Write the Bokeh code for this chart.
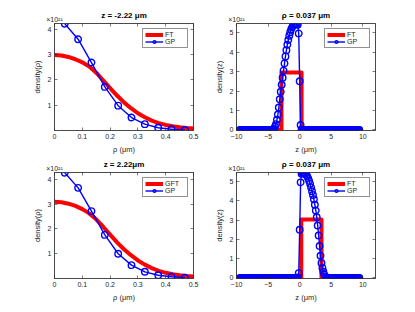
from bokeh.plotting import figure
from bokeh.layouts import column, row
from bokeh.models import (Range1d, FixedTicker, LinearAxis, Legend,
                          LegendItem, NumeralTickFormatter, BasicTickFormatter)
from bokeh.embed import file_html
from bokeh.resources import INLINE

FONT = "Liberation Sans"
RED = "#ff0000"
BLUE = "#0000ff"
AX = "#262626"

# ---------------- data (values in units of 1e21) ----------------
rho_ft = [0.0, 0.025, 0.05, 0.075, 0.1, 0.125, 0.15, 0.175, 0.2, 0.225, 0.25,
          0.275, 0.3, 0.325, 0.35, 0.375, 0.4, 0.425, 0.45, 0.475, 0.5]
ft_rho_top = [2.98, 2.96, 2.90, 2.81, 2.69, 2.52, 2.28, 1.98, 1.67, 1.38, 1.11,
              0.88, 0.68, 0.52, 0.39, 0.29, 0.22, 0.17, 0.13, 0.10, 0.08]
ft_rho_bot = [3.10, 3.08, 3.02, 2.93, 2.80, 2.63, 2.39, 2.09, 1.77, 1.46, 1.18,
              0.94, 0.73, 0.56, 0.42, 0.31, 0.23, 0.17, 0.13, 0.10, 0.08]

rho_gp = [0.037, 0.085, 0.133, 0.181, 0.229, 0.277, 0.325, 0.373, 0.421, 0.469]
gp_rho_top = [4.21, 3.60, 2.68, 1.72, 0.98, 0.51, 0.25, 0.11, 0.05, 0.02]
gp_rho_bot = [4.27, 3.66, 2.72, 1.76, 1.00, 0.54, 0.27, 0.13, 0.07, 0.03]

z_gp = [-9.45, -9.3, -9.15, -9.0, -8.85, -8.7, -8.55, -8.4, -8.25, -8.1,
        -7.95, -7.8, -7.65, -7.5, -7.35, -7.2, -7.05, -6.9, -6.75, -6.6,
        -6.45, -6.3, -6.15, -6.0, -5.85, -5.7, -5.55, -5.4, -5.25, -5.1,
        -4.95, -4.8, -4.65, -4.5, -4.35, -4.2, -4.05, -3.9, -3.75, -3.6,
        -3.45, -3.3, -3.15, -3.0, -2.85, -2.7, -2.55, -2.4, -2.25, -2.1,
        -1.95, -1.8, -1.65, -1.5, -1.35, -1.2, -1.05, -0.9, -0.75, -0.6,
        -0.45, -0.3, -0.15, 0.0,
        0.15, 0.3, 0.45, 0.6, 0.75, 0.9, 1.05, 1.2, 1.35, 1.5,
        1.65, 1.8, 1.95, 2.1, 2.25, 2.4, 2.55, 2.7, 2.85, 3.0,
        3.15, 3.3, 3.45, 3.6, 3.75, 3.9, 4.05, 4.2, 4.35, 4.5,
        4.65, 4.8, 4.95, 5.1, 5.25, 5.4, 5.55, 5.7, 5.85, 6.0,
        6.15, 6.3, 6.45, 6.6, 6.75, 6.9, 7.05, 7.2, 7.35, 7.5,
        7.65, 7.8, 7.95, 8.1, 8.25, 8.4, 8.55, 8.7, 8.85, 9.0,
        9.15, 9.3, 9.45]

gp_z_top = ([0.0] * 34 +
            [0.01, 0.03, 0.06, 0.16, 0.30, 0.52, 0.79, 1.15, 1.58, 1.96,
             2.32, 2.68, 3.05, 3.42, 3.78, 4.10, 4.38, 4.62, 4.84, 5.02,
             5.16, 5.27, 5.35, 5.41, 5.45, 5.46, 5.45, 5.40, 4.96, 2.50,
             0.25, 0.02] +
            [0.0] * 61)
gp_z_bot = ([0.0] * 61 +
            [0.02, 0.25, 2.50, 4.96, 5.40, 5.45, 5.46, 5.45, 5.41, 5.35,
             5.27, 5.17, 5.04, 4.88, 4.70, 4.50, 4.30, 4.08, 3.80, 3.50,
             3.15, 2.72, 2.20, 1.66, 1.15, 0.78, 0.52, 0.32, 0.18, 0.08,
             0.04, 0.01] +
            [0.0] * 34)

z_ft_top = [-10.0, -2.88, -2.88, 0.3, 0.3, 10.0]
ft_z_top = [0.0, 0.0, 2.95, 2.95, 0.0, 0.0]
z_ft_bot = [-10.0, 0.25, 0.25, 3.45, 3.45, 10.0]
ft_z_bot = [0.0, 0.0, 3.03, 3.03, 0.0, 0.0]

rho_ticks = [0, 0.1, 0.2, 0.3, 0.4, 0.5]
rho_yticks = [1, 2, 3, 4]
z_ticks = [-10, -5, 0, 5, 10]
z_yticks = [0, 1, 2, 3, 4, 5]

titles = ["z = -2.22 \u03bcm", "\u03c1 = 0.037 \u03bcm", "z = 2.22\u03bcm", "\u03c1 = 0.037 \u03bcm"]
exponent = "\u00d710\u00b2\u00b9"


def style_axis(ax, ticks, fmt, label):
    ax.ticker = FixedTicker(ticks=ticks)
    ax.formatter = fmt
    ax.axis_label = label
    ax.axis_line_color = AX
    ax.axis_line_width = 0.6
    ax.major_tick_line_color = AX
    ax.major_tick_line_width = 0.6
    ax.major_tick_in = 3
    ax.major_tick_out = 0
    ax.minor_tick_line_color = None
    ax.major_label_text_font = FONT
    ax.major_label_text_font_size = "7px"
    ax.major_label_text_color = AX
    ax.major_label_standoff = 3
    ax.axis_label_text_font = FONT
    ax.axis_label_text_font_size = "7.5px"
    ax.axis_label_text_font_style = "normal"
    ax.axis_label_text_color = AX
    ax.axis_label_standoff = 3


def box_axis(ticks):
    ax = LinearAxis(ticker=FixedTicker(ticks=ticks))
    ax.axis_line_color = AX
    ax.axis_line_width = 0.6
    ax.major_tick_line_color = AX
    ax.major_tick_line_width = 0.6
    ax.major_tick_in = 3
    ax.major_tick_out = 0
    ax.minor_tick_line_color = None
    return ax


def panel(width, height, bl, br, bt, bb, xr, yr, xticks, yticks, xfmt,
          xlabel, ylabel, title, x_ft, y_ft, ft_name, x_gp, y_gp):
    p = figure(width=width, height=height, x_range=Range1d(*xr),
               y_range=Range1d(*yr), output_backend="svg",
               toolbar_location=None, min_border_left=bl, min_border_right=br,
               min_border_top=bt, min_border_bottom=bb)
    p.grid.visible = False
    p.outline_line_color = AX
    p.outline_line_width = 0.6
    p.background_fill_color = "white"
    p.border_fill_color = "white"
    style_axis(p.xaxis[0], xticks, xfmt, xlabel)
    style_axis(p.yaxis[0], yticks, BasicTickFormatter(), ylabel)

    # top box edge: ticks, exponent marker as a label, title as axis label
    top = box_axis(xticks)
    top.major_label_overrides = {t: (exponent if i == 0 else "") for i, t in enumerate(xticks)}
    top.major_label_text_align = "left"
    top.major_label_text_font = FONT
    top.major_label_text_font_size = "7px"
    top.major_label_text_color = AX
    top.major_label_standoff = 1
    top.axis_label = title
    top.axis_label_text_font = FONT
    top.axis_label_text_font_size = "8px"
    top.axis_label_text_font_style = "bold"
    top.axis_label_text_color = "black"
    top.axis_label_standoff = -7
    p.add_layout(top, "above")

    right = box_axis(yticks)
    right.major_label_text_font_size = "0px"
    right.major_label_text_alpha = 0
    right.major_label_standoff = 0
    p.add_layout(right, "right")

    r_ft = p.line(x_ft, y_ft, line_color=RED, line_width=4, line_join="round")
    r_gl = p.line(x_gp, y_gp, line_color=BLUE, line_width=1.4)
    r_gm = p.scatter(x_gp, y_gp, marker="circle", size=6.5, line_color=BLUE,
                     line_width=1.4, fill_color=None)

    leg = Legend(items=[LegendItem(label=ft_name, renderers=[r_ft]),
                        LegendItem(label="GP", renderers=[r_gl, r_gm])],
                 location="top_right")
    leg.label_text_font = FONT
    leg.label_text_font_size = "7px"
    leg.label_text_color = AX
    leg.glyph_width = 18
    leg.glyph_height = 7
    leg.label_height = 7
    leg.spacing = 0
    leg.padding = 2
    leg.margin = 5
    leg.label_standoff = 2
    leg.border_line_color = AX
    leg.border_line_width = 0.6
    leg.background_fill_color = "white"
    leg.background_fill_alpha = 1
    p.add_layout(leg)
    return p


p1 = panel(207, 156, 54, 14, 23, 26, (0, 0.5), (0, 4.22), rho_ticks, rho_yticks,
           NumeralTickFormatter(format="0.[0]"), "\u03c1 (\u03bcm)", "density(\u03c1)",
           titles[0], rho_ft, ft_rho_top, "FT", rho_gp, gp_rho_top)
p2 = panel(208, 156, 29, 40, 23, 26, (-10, 12), (-0.03, 5.47), z_ticks, z_yticks,
           BasicTickFormatter(), "z (\u03bcm)", "density(z)", titles[1],
           z_ft_top, ft_z_top, "FT", z_gp, gp_z_top)
p3 = panel(207, 156, 54, 14, 15, 34, (0, 0.5), (0, 4.28), rho_ticks, rho_yticks,
           NumeralTickFormatter(format="0.[0]"), "\u03c1 (\u03bcm)", "density(\u03c1)",
           titles[2], rho_ft, ft_rho_bot, "GFT", rho_gp, gp_rho_bot)
p4 = panel(208, 156, 29, 40, 15, 34, (-10, 12), (-0.03, 5.47), z_ticks, z_yticks,
           BasicTickFormatter(), "z (\u03bcm)", "density(z)", titles[3],
           z_ft_bot, ft_z_bot, "FT", z_gp, gp_z_bot)

layout = column(row(p1, p2), row(p3, p4))
open("out.html", "w").write(file_html(layout, INLINE))
